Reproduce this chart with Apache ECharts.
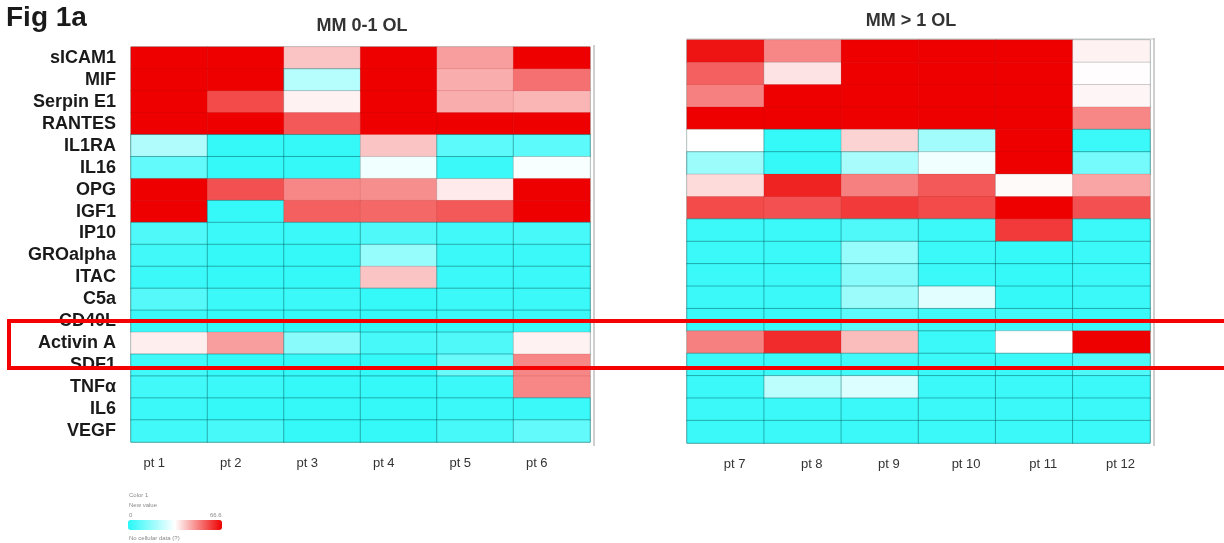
<!DOCTYPE html>
<html>
<head>
<meta charset="utf-8">
<script src="https://cdn.jsdelivr.net/npm/echarts@6/dist/echarts.min.js"></script>
<style>
  html, body { margin: 0; padding: 0; background: #ffffff; }
  #chart { width: 1224px; height: 543px; }
</style>
</head>
<body>
<div id="chart"></div>
<script>
// Analytes, top to bottom
const analytes = ['sICAM1', 'MIF', 'Serpin E1', 'RANTES', 'IL1RA', 'IL16', 'OPG', 'IGF1',
  'IP10', 'GROalpha', 'ITAC', 'C5a', 'CD40L', 'Activin A', 'SDF1', 'TNFα', 'IL6', 'VEGF'];

// Patient groups
const groupLow = ['pt 1', 'pt 2', 'pt 3', 'pt 4', 'pt 5', 'pt 6'];
const groupHigh = ['pt 7', 'pt 8', 'pt 9', 'pt 10', 'pt 11', 'pt 12'];
const titleLow = 'MM 0-1 OL';
const titleHigh = 'MM > 1 OL';

// Colour scale limits
const scaleMin = 0;
const scaleMax = 66.6;

// Per-patient values, one entry per analyte (same order as analytes)
const pt1  = [66.6, 66.6, 66.6, 66.6, 21, 9, 66.6, 66.6, 6, 4, 3, 7, 3, 35.5, 4, 4, 3, 4];
const pt2  = [66.6, 66.6, 57, 66.6, 2, 2, 56, 2, 3, 2, 2, 3, 2, 46, 2, 3, 2, 5];
const pt3  = [41, 22, 35, 55, 2, 2, 49, 54, 3, 2, 2, 3, 2, 15, 2, 2, 2, 2];
const pt4  = [66.6, 66.6, 66.6, 66.6, 41, 31, 48, 53, 6, 17, 41, 2, 2, 5, 2, 2, 2, 2];
const pt5  = [46, 44, 44, 66.6, 8, 3, 36, 55, 4, 3, 3, 3, 3, 6, 10, 3, 3, 5];
const pt6  = [66.6, 52, 43, 66.6, 8, 32, 66.6, 66.6, 5, 3, 3, 3, 3, 35, 49, 49, 3, 9];

const pt7  = [64, 54, 50, 66.6, 33.3, 18, 38, 57, 3, 3, 3, 3, 3, 50, 3, 3, 3, 3];
const pt8  = [49, 37, 66.6, 66.6, 2, 2, 62, 56, 3, 3, 3, 3, 3, 61, 3, 23, 3, 3];
const pt9  = [66.6, 66.6, 66.6, 66.6, 39, 20, 50, 59, 6, 17, 15, 18, 8, 42, 4, 28, 3, 3];
const pt10 = [66.6, 66.6, 66.6, 66.6, 19, 31, 55, 57, 3, 3, 3, 29, 4, 3, 3, 3, 3, 3];
const pt11 = [66.6, 66.6, 66.6, 66.6, 66.6, 66.6, 34, 66.6, 59, 2, 2, 2, 4, 33.3, 3, 3, 3, 3];
const pt12 = [35, 33.5, 34.5, 49, 3, 12, 45, 56, 3, 3, 3, 3, 3, 66.6, 6, 3, 3, 3];

const columnsLow = [pt1, pt2, pt3, pt4, pt5, pt6];
const columnsHigh = [pt7, pt8, pt9, pt10, pt11, pt12];

// Cell outlines: teal on the cold side, faint on the warm side
function outlineFor(v) {
  if (v < 30) return { borderColor: 'rgba(0,100,100,0.45)', borderWidth: 1 };
  if (v < 40) return { borderColor: 'rgba(120,120,120,0.30)', borderWidth: 1 };
  return { borderColor: 'rgba(150,0,0,0.12)', borderWidth: 1 };
}

function cells(columns) {
  const out = [];
  columns.forEach((col, x) => {
    col.forEach((v, y) => {
      out.push({ value: [x, y, v], itemStyle: outlineFor(v) });
    });
  });
  return out;
}

const labelFont = 'Liberation Sans, Arial, sans-serif';

const chart = echarts.init(document.getElementById('chart'), null, { renderer: 'canvas' });

const option = {
  backgroundColor: '#ffffff',
  animation: false,
  title: [
    { text: 'Fig 1a', left: 1, top: -1,
      textStyle: { fontFamily: labelFont, fontSize: 28, fontWeight: 'bold', color: '#1a1a1a' } },
    { text: titleLow, left: 357, top: 12, textAlign: 'center',
      textStyle: { fontFamily: labelFont, fontSize: 18, fontWeight: 'bold', color: '#333333' } },
    { text: titleHigh, left: 906, top: 7, textAlign: 'center',
      textStyle: { fontFamily: labelFont, fontSize: 18, fontWeight: 'bold', color: '#333333' } }
  ],
  grid: [
    { left: 131, top: 47, width: 459, height: 395, show: true, borderColor: 'rgba(0,90,90,0.5)', borderWidth: 1 },
    { left: 687, top: 40, width: 463, height: 403, show: true, borderColor: 'rgba(0,90,90,0.5)', borderWidth: 1 }
  ],
  xAxis: [
    { type: 'category', gridIndex: 0, data: groupLow, position: 'bottom',
      axisLine: { show: false }, axisTick: { show: false }, splitLine: { show: false },
      axisLabel: { interval: 0, fontFamily: labelFont, fontSize: 13, color: '#333', margin: 15, padding: [0, 30, 0, 0] } },
    { type: 'category', gridIndex: 1, data: groupHigh, position: 'bottom',
      axisLine: { show: false }, axisTick: { show: false }, splitLine: { show: false },
      axisLabel: { interval: 0, fontFamily: labelFont, fontSize: 13, color: '#333', margin: 15, padding: [0, 0, 0, 18] } }
  ],
  yAxis: [
    { type: 'category', gridIndex: 0, data: analytes, inverse: true,
      axisLine: { show: false }, axisTick: { show: false }, splitLine: { show: false },
      axisLabel: { interval: 0, hideOverlap: false, fontFamily: labelFont, fontSize: 18, fontWeight: 'bold', color: '#1a1a1a', margin: 15 } },
    { type: 'category', gridIndex: 1, data: analytes, inverse: true,
      axisLine: { show: false }, axisTick: { show: false }, splitLine: { show: false },
      axisLabel: { show: false } }
  ],
  visualMap: {
    type: 'continuous',
    min: scaleMin,
    max: scaleMax,
    seriesIndex: [0, 1],
    orient: 'horizontal',
    left: 128,
    top: 520,
    padding: 0,
    itemWidth: 10,
    itemHeight: 94,
    calculable: false,
    inRange: { color: ['#28f8f8', '#ffffff', '#ee0000'] }
  },
  series: [
    { type: 'heatmap', xAxisIndex: 0, yAxisIndex: 0, data: cells(columnsLow),
      emphasis: { disabled: true }, progressive: 0 },
    { type: 'heatmap', xAxisIndex: 1, yAxisIndex: 1, data: cells(columnsHigh),
      emphasis: { disabled: true }, progressive: 0 }
  ],
  graphic: [
    // panel frames
    { type: 'line', shape: { x1: 594, y1: 45, x2: 594, y2: 446 }, style: { stroke: '#cfcfcf', lineWidth: 2 } },
    { type: 'line', shape: { x1: 1154, y1: 38, x2: 1154, y2: 446 }, style: { stroke: '#cfcfcf', lineWidth: 2 } },
    { type: 'line', shape: { x1: 686, y1: 39, x2: 1155, y2: 39 }, style: { stroke: '#c4c4c4', lineWidth: 1 } },
    // colour key captions
    { type: 'text', left: 129, top: 492, style: { text: 'Color 1', fontSize: 6, fill: '#8a8a8a', fontFamily: labelFont } },
    { type: 'text', left: 129, top: 502, style: { text: 'New value', fontSize: 6, fill: '#8a8a8a', fontFamily: labelFont } },
    { type: 'text', left: 129, top: 512, style: { text: String(scaleMin), fontSize: 6, fill: '#8a8a8a', fontFamily: labelFont } },
    { type: 'text', left: 210, top: 512, style: { text: String(scaleMax), fontSize: 6, fill: '#8a8a8a', fontFamily: labelFont } },
    { type: 'text', left: 129, top: 535, style: { text: 'No cellular data (?)', fontSize: 6, fill: '#8a8a8a', fontFamily: labelFont } },
    // highlight box around Activin A
    { type: 'rect', z: 100, shape: { x: 9, y: 321, width: 1240, height: 47 },
      style: { fill: 'none', stroke: '#f40000', lineWidth: 4 } }
  ]
};

chart.setOption(option);
</script>
</body>
</html>
